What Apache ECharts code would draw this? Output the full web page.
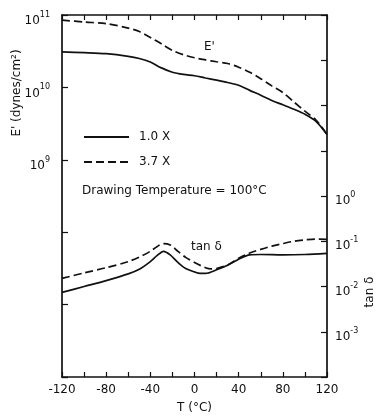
<!DOCTYPE html>
<html>
<head>
<meta charset="utf-8">
<script src="https://cdn.jsdelivr.net/npm/echarts@6/dist/echarts.min.js"></script>
<style>html,body{margin:0;padding:0;background:#fff}#c{width:378px;height:419px}</style>
</head>
<body>
<div id="c"></div>
<script>
// E' (dynes/cm^2) vs T (°C)
const tempE = [-120,-100,-80,-60,-50,-40,-30,-20,-10,0,10,20,30,40,50,60,70,80,90,100,110,120];
const E_1x  = [3.09e10,3.02e10,2.92e10,2.69e10,2.51e10,2.24e10,1.86e10,1.62e10,1.51e10,1.45e10,1.35e10,1.26e10,1.17e10,1.07e10,9.1e9,7.8e9,6.6e9,5.75e9,5.0e9,4.27e9,3.4e9,2.24e9];
const E_37x = [8.5e10,8.0e10,7.6e10,6.6e10,5.9e10,4.9e10,4.0e10,3.24e10,2.82e10,2.57e10,2.4e10,2.26e10,2.14e10,1.9e10,1.62e10,1.32e10,1.05e10,8.5e9,6.3e9,4.7e9,3.55e9,2.24e9];
// tan delta vs T (°C)
const tempTan1 = [-120,-100,-80,-60,-50,-40,-34,-28,-22,-15,-8,0,5,10,20,30,40,50,60,80,100,120];
const tan_1x   = [0.0074,0.0100,0.0135,0.019,0.024,0.0355,0.048,0.060,0.050,0.034,0.025,0.021,0.0195,0.0195,0.0234,0.0295,0.040,0.050,0.051,0.050,0.051,0.054];
const tempTan2 = [-120,-100,-80,-60,-50,-40,-34,-28,-22,-15,-8,0,10,15,20,30,40,50,60,70,80,90,100,110,120];
const tan_37x  = [0.0151,0.020,0.026,0.0355,0.0447,0.060,0.076,0.089,0.083,0.060,0.044,0.034,0.026,0.0245,0.025,0.030,0.042,0.055,0.066,0.078,0.089,0.100,0.107,0.112,0.110];
// axis labels
const xLabels = [-120,-80,-40,0,40,80,120];
const leftExpLabels = [9,10,11];
const rightExpLabels = [0,-1,-2,-3];
const names = ['1.0 X','3.7 X'];

const FONT = 'DejaVu Sans';
const pair = (xs, ys) => xs.map((x, i) => [x, ys[i]]);
const expOf = v => Math.round(Math.log10(v));
const supRich = {
  b: {fontFamily: FONT, fontSize: 12, color: '#111', lineHeight: 16, verticalAlign: 'bottom'},
  s: {fontFamily: FONT, fontSize: 8, color: '#111', lineHeight: 16, verticalAlign: 'top'}
};
const axisLine = {show: true, onZero: false, lineStyle: {color: '#111', width: 1.7}};
const solid = {color: '#111', width: 1.7, type: 'solid'};
const dashed = {color: '#111', width: 1.7, type: [8, 4]};

const chart = echarts.init(document.getElementById('c'), null, {renderer: 'canvas'});
chart.setOption({
  animation: false,
  backgroundColor: '#fff',
  grid: {left: 62, right: 51, top: 15, bottom: 36},
  legend: {
    data: names, orient: 'vertical', left: 83, top: 131, padding: 0, itemWidth: 45, itemHeight: 12, itemGap: 13,
    itemStyle: {color: 'rgba(0,0,0,0)', borderWidth: 0, opacity: 0},
    textStyle: {fontFamily: FONT, fontSize: 12, color: '#111', padding: [0, 0, 0, 5]},
    selectedMode: false
  },
  xAxis: [
    {type: 'value', min: -120, max: 120, interval: 20, position: 'bottom',
     axisLine: axisLine, splitLine: {show: false},
     axisTick: {show: true, inside: true, length: 5, lineStyle: {color: '#111', width: 1.2}},
     axisLabel: {margin: 7, fontFamily: FONT, fontSize: 12, color: '#111',
       formatter: v => xLabels.indexOf(v) >= 0 ? String(v) : ''},
     name: 'T (°C)', nameLocation: 'middle', nameGap: 25,
     nameTextStyle: {fontFamily: FONT, fontSize: 12, color: '#111'}},
    {type: 'value', min: -120, max: 120, interval: 20, position: 'top',
     axisLine: axisLine, splitLine: {show: false},
     axisTick: {show: true, inside: true, length: 5, lineStyle: {color: '#111', width: 1.2}},
     axisLabel: {show: false}}
  ],
  yAxis: [
    {type: 'log', logBase: 10, min: 1e6, max: 1e11, splitNumber: 5, position: 'left',
     axisLine: axisLine, splitLine: {show: false}, minorTick: {show: false},
     axisTick: {show: true, inside: true, length: 6, lineStyle: {color: '#111', width: 1.2}},
     axisLabel: {margin: 12, padding: [8, 0, 0, 0], rich: supRich,
       formatter: v => { const e = expOf(v); return leftExpLabels.indexOf(e) >= 0 ? '{b|10}{s|' + e + '}' : ''; }}},
    {type: 'log', logBase: 10, min: 1e-4, max: 1e4, splitNumber: 8, position: 'right',
     axisLine: axisLine, splitLine: {show: false}, minorTick: {show: false},
     axisTick: {show: true, inside: true, length: 6, lineStyle: {color: '#111', width: 1.2}},
     axisLabel: {margin: 8, padding: [6, 0, 0, 0], rich: supRich,
       formatter: v => { const e = expOf(v); return rightExpLabels.indexOf(e) >= 0 ? '{b|10}{s|' + e + '}' : ''; }}}
  ],
  series: [
    {name: names[0], type: 'line', xAxisIndex: 0, yAxisIndex: 0, data: pair(tempE, E_1x), symbol: 'none', smooth: 0.3, lineStyle: solid, itemStyle: {color: '#111'}},
    {name: names[1], type: 'line', xAxisIndex: 0, yAxisIndex: 0, data: pair(tempE, E_37x), symbol: 'none', smooth: 0.3, lineStyle: dashed, itemStyle: {color: '#111'}},
    {name: names[0], type: 'line', xAxisIndex: 0, yAxisIndex: 1, data: pair(tempTan1, tan_1x), symbol: 'none', smooth: 0.3, lineStyle: solid, itemStyle: {color: '#111'}},
    {name: names[1], type: 'line', xAxisIndex: 0, yAxisIndex: 1, data: pair(tempTan2, tan_37x), symbol: 'none', smooth: 0.3, lineStyle: dashed, itemStyle: {color: '#111'}}
  ],
  graphic: [
    {type: 'text', x: 17, y: 93, rotation: Math.PI / 2,
     style: {text: "E' (dynes/cm²)", font: '12px "DejaVu Sans"', fill: '#111', align: 'center', verticalAlign: 'middle'}},
    {type: 'text', x: 370, y: 292, rotation: Math.PI / 2,
     style: {text: 'tan δ', font: '12px "DejaVu Sans"', fill: '#111', align: 'center', verticalAlign: 'middle'}},
    {type: 'text', x: 204, y: 41,
     style: {text: "E'", font: '12px "DejaVu Sans"', fill: '#111'}},
    {type: 'text', x: 191, y: 241,
     style: {text: 'tan δ', font: '12px "DejaVu Sans"', fill: '#111'}},
    {type: 'text', x: 82, y: 185,
     style: {text: 'Drawing Temperature = 100°C', font: '12px "DejaVu Sans"', fill: '#111'}}
  ]
});
</script>
</body>
</html>
